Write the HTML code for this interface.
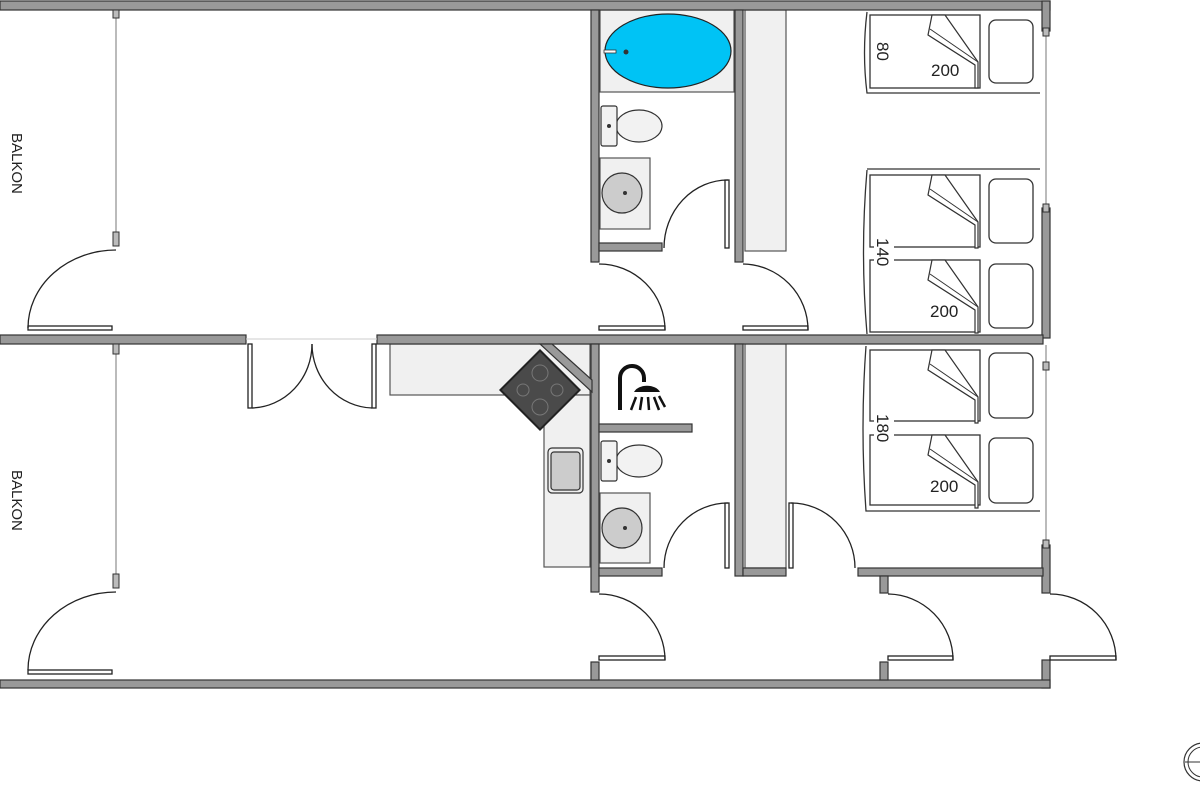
<!DOCTYPE html>
<html><head><meta charset="utf-8"><style>
html,body{margin:0;padding:0;background:#fff;}
svg{display:block;font-family:"Liberation Sans",sans-serif;}
</style></head><body>
<svg width="1200" height="800" viewBox="0 0 1200 800" xmlns="http://www.w3.org/2000/svg">
<defs>
<g id="fold">
<polygon points="0,0 13,0 46,47 46,73 43,73 43,50 -4,20" fill="#fff" stroke="#333" stroke-width="1.2"/>
<line x1="-4" y1="20" x2="43" y2="50" stroke="#333" stroke-width="1"/>
<line x1="-2" y1="14" x2="46" y2="47" stroke="#333" stroke-width="1"/>
</g>
</defs>
<g stroke="#333" stroke-width="1.2">
<!-- light gray furniture -->
<rect x="600" y="10" width="134" height="82" fill="#f0f0f0" stroke="#555"/>
<rect x="745" y="10" width="41" height="241" fill="#f0f0f0" stroke="#555"/>
<rect x="745" y="344" width="41" height="224" fill="#f0f0f0" stroke="#555"/>
<rect x="390" y="344" width="200" height="51" fill="#f0f0f0" stroke="#555"/>
<rect x="544" y="395" width="46" height="172" fill="#f0f0f0" stroke="#555"/>
<rect x="600" y="158" width="50" height="71" fill="#f0f0f0" stroke="#555"/>
<rect x="600" y="493" width="50" height="70" fill="#f0f0f0" stroke="#555"/>
</g>
<!-- walls -->
<g fill="#999" stroke="#333" stroke-width="1.2">
<rect x="0" y="1" width="1050" height="9"/>
<rect x="1042" y="1" width="8" height="30"/>
<rect x="1042" y="208" width="8" height="130"/>
<rect x="1042" y="545" width="8" height="48"/>
<rect x="1042" y="660" width="8" height="28"/>
<rect x="0" y="680" width="1050" height="8"/>
<rect x="0" y="335" width="246" height="9"/>
<rect x="377" y="335" width="666" height="9"/>
<rect x="591" y="10" width="8" height="252"/>
<rect x="591" y="344" width="8" height="248"/>
<rect x="591" y="662" width="8" height="18"/>
<rect x="735" y="10" width="8" height="252"/>
<rect x="735" y="344" width="8" height="232"/>
<rect x="599" y="243" width="63" height="8"/>
<rect x="599" y="568" width="63" height="8"/>
<rect x="743" y="568" width="43" height="8"/>
<rect x="858" y="568" width="185" height="8"/>
<rect x="880" y="576" width="8" height="17"/>
<rect x="880" y="662" width="8" height="18"/>
<rect x="599" y="424" width="93" height="8"/>
<polygon points="540,344 552,344 592,380 592,392"/>
</g>
<!-- windows -->
<g stroke="#777" stroke-width="1" fill="none">
<line x1="1046" y1="31" x2="1046" y2="208"/>
<line x1="1046" y1="345" x2="1046" y2="545"/>
<line x1="116" y1="10" x2="116" y2="240"/>
<line x1="116" y1="345" x2="116" y2="580"/>
<line x1="246" y1="339" x2="377" y2="339" stroke="#ccc"/>
</g>
<g fill="#bbb" stroke="#333" stroke-width="1">
<rect x="113" y="10" width="6" height="8"/><rect x="113" y="232" width="6" height="14"/>
<rect x="113" y="344" width="6" height="10"/><rect x="113" y="574" width="6" height="14"/>
<rect x="1043" y="28" width="6" height="8"/><rect x="1043" y="204" width="6" height="8"/>
<rect x="1043" y="362" width="6" height="8"/><rect x="1043" y="540" width="6" height="8"/>
</g>
<!-- doors -->
<g fill="none" stroke="#222" stroke-width="1.3">
<path d="M116,250 A88,78 0 0 0 28,328"/><rect x="28" y="326" width="84" height="4"/>
<path d="M116,592 A88,78 0 0 0 28,670"/><rect x="28" y="670" width="84" height="4"/>
<rect x="248" y="344" width="4" height="64"/><rect x="372" y="344" width="4" height="64"/>
<path d="M252,408 A62,64 0 0 0 312,344"/><path d="M372,408 A62,64 0 0 1 312,344"/>
<path d="M599,264 A66,66 0 0 1 665,330"/><rect x="599" y="326" width="66" height="4"/>
<path d="M743,264 A66,66 0 0 1 808,330"/><rect x="743" y="326" width="65" height="4"/>
<path d="M599,594 A66,66 0 0 1 665,660"/><rect x="599" y="656" width="66" height="4"/>
<path d="M888,594 A66,66 0 0 1 953,660"/><rect x="888" y="656" width="65" height="4"/>
<path d="M1050,594 A66,66 0 0 1 1116,660"/><rect x="1050" y="656" width="66" height="4"/>
<path d="M664,248 A64,68 0 0 1 728,180"/><rect x="725" y="180" width="4" height="68"/>
<path d="M664,568 A64,65 0 0 1 728,503"/><rect x="725" y="503" width="4" height="65"/>
<path d="M855,568 A64,65 0 0 0 791,503"/><rect x="789" y="503" width="4" height="65"/>
</g>
<!-- bath -->
<ellipse cx="668" cy="51" rx="63" ry="37" fill="#00c3f5" stroke="#222" stroke-width="1.2"/>
<circle cx="626" cy="52" r="2.5" fill="#333"/>
<rect x="604" y="50" width="12" height="3" fill="#fff" stroke="#333" stroke-width="0.8"/>
<!-- toilets -->
<g fill="#f2f2f2" stroke="#333" stroke-width="1.2">
<ellipse cx="639" cy="126" rx="23" ry="16"/><rect x="601" y="106" width="16" height="40" rx="2"/>
<ellipse cx="639" cy="461" rx="23" ry="16"/><rect x="601" y="441" width="16" height="40" rx="2"/>
<circle cx="622" cy="193" r="20" fill="#ccc"/><circle cx="622" cy="528" r="20" fill="#ccc"/>
<rect x="548" y="448" width="35" height="45" rx="4" fill="#eee"/>
<rect x="551" y="452" width="29" height="38" rx="3" fill="#ccc"/>
</g>
<circle cx="609" cy="126" r="2" fill="#333"/><circle cx="609" cy="461" r="2" fill="#333"/>
<circle cx="625" cy="193" r="2" fill="#333"/><circle cx="625" cy="528" r="2" fill="#333"/>
<!-- stove -->
<g transform="translate(540,390) rotate(45)">
<rect x="-28" y="-28" width="56" height="56" fill="#4a4a4a" stroke="#222" stroke-width="2"/>
<g fill="none" stroke="#777" stroke-width="1"><circle cx="-12" cy="-12" r="8"/><circle cx="12" cy="12" r="8"/><circle cx="12" cy="-12" r="6"/><circle cx="-12" cy="12" r="6"/></g>
</g>
<!-- shower -->
<g fill="none" stroke="#111" stroke-width="4">
<path d="M620,410 V378 A12,12 0 0 1 644,378 V382"/>
</g>
<path d="M634,392 A14,10 0 0 1 660,392 Z" fill="#111"/>
<g stroke="#111" stroke-width="2.5"><line x1="636" y1="397" x2="631" y2="410"/><line x1="642" y1="397" x2="640" y2="410"/><line x1="648" y1="397" x2="649" y2="410"/><line x1="654" y1="397" x2="659" y2="410"/><line x1="659" y1="396" x2="665" y2="407"/></g>
<!-- beds -->
<g fill="#fff" stroke="#333" stroke-width="1.3">
<path d="M867,12 Q862,53 867,93 H1040"/>
<rect x="870" y="15" width="110" height="73"/>
<rect x="989" y="20" width="44" height="63" rx="7"/>
<path d="M867,170 Q860,252 867,334" /><line x1="867" y1="169" x2="1040" y2="169"/>
<rect x="870" y="175" width="110" height="72"/><rect x="870" y="260" width="110" height="72"/>
<rect x="989" y="179" width="44" height="64" rx="7"/><rect x="989" y="264" width="44" height="64" rx="7"/>
<path d="M866,346 Q860,428 866,511 H1040"/>
<rect x="870" y="350" width="110" height="71"/><rect x="870" y="435" width="110" height="70"/>
<rect x="989" y="353" width="44" height="65" rx="7"/><rect x="989" y="438" width="44" height="65" rx="7"/>
</g>
<use href="#fold" x="932" y="15"/>
<use href="#fold" x="932" y="175"/>
<use href="#fold" x="932" y="260"/>
<use href="#fold" x="932" y="350"/>
<use href="#fold" x="932" y="435"/>
<rect x="874" y="240" width="20" height="26" fill="#fff"/>
<rect x="874" y="418" width="20" height="26" fill="#fff"/>
<g font-size="17" fill="#222">
<text x="931" y="76">200</text>
<text x="930" y="317">200</text>
<text x="930" y="492">200</text>
<text transform="translate(877,42) rotate(90)">80</text>
<text transform="translate(877,238) rotate(90)">140</text>
<text transform="translate(877,414) rotate(90)">180</text>
<text transform="translate(12,133) rotate(90)" font-size="15">BALKON</text>
<text transform="translate(12,470) rotate(90)" font-size="15">BALKON</text>
</g>
<!-- compass -->
<circle cx="1203" cy="762" r="19" fill="none" stroke="#333" stroke-width="1.2"/>
<circle cx="1203" cy="762" r="15" fill="none" stroke="#333" stroke-width="1"/>
<line x1="1185" y1="762" x2="1200" y2="762" stroke="#333"/>
</svg>
</body></html>
